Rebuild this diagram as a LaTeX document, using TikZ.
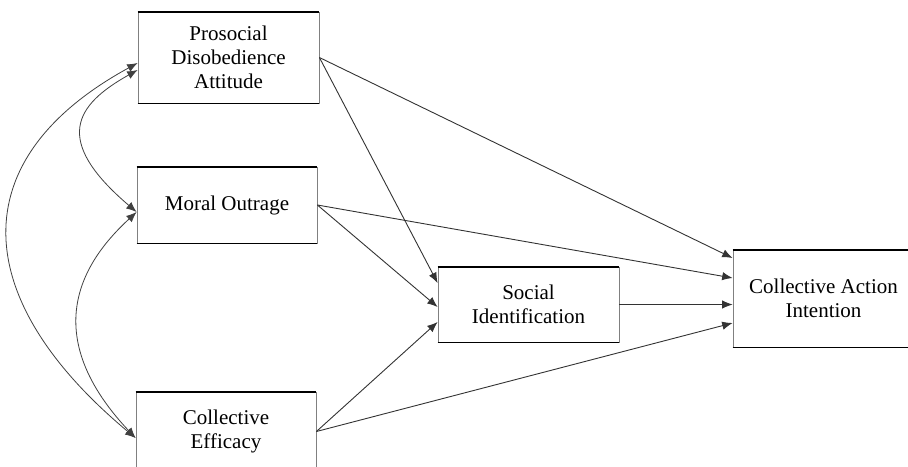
\documentclass[tikz,border=0pt]{standalone}
\usepackage{fontspec}
\setmainfont{Liberation Serif}
\usetikzlibrary{arrows.meta,calc}

\tikzset{
  var/.style={rectangle, draw=black!50, line width=0.4pt, align=center,
    font=\fontsize{10.5}{12}\selectfont, inner sep=0pt},
  effect/.style={-{Latex[length=5.2pt,width=4.2pt]}, draw=black!80, line width=0.45pt},
  cov/.style={{Latex[length=5.2pt,width=4.2pt]}-{Latex[length=5.2pt,width=4.2pt]},
    draw=black!75, line width=0.4pt}
}

\begin{document}
\begin{tikzpicture}[x=0.5pt,y=-0.5pt]
	\clip (0,0) rectangle (908,466);
	% variables
	\node[var, minimum width=90.5pt, minimum height=45.5pt] (pda) at (228.5,57.5) {Prosocial\\Disobedience\\Attitude};
	\node[var, minimum width=90pt, minimum height=38pt] (mo) at (227,205) {Moral Outrage};
	\node[var, minimum width=90pt, minimum height=39.5pt] (ce) at (226,431.5) {Collective\\Efficacy};
	\node[var, minimum width=90.5pt, minimum height=37.5pt] (si) at (528.5,304.5) {Social\\Identification};
	\node[var, minimum width=90.5pt, minimum height=48.5pt] (cai) at (823.5,298.5) {Collective Action\\Intention};
	% heavier top and bottom edges
	\foreach \v in {pda,mo,ce,si,cai}
		\draw[line width=0.9pt] (\v.north west) -- (\v.north east) (\v.south west) -- (\v.south east);
	% paths
	\draw[effect] (pda.east) -- ($(si.west)+(0,-21.5)$);
	\draw[effect] (pda.east) -- ($(cai.west)+(0,-40.5)$);
	\draw[effect] (mo.east) -- ($(si.west)+(0,2.5)$);
	\draw[effect] (mo.east) -- ($(cai.west)+(0,-20.5)$);
	\draw[effect] (ce.east) -- ($(si.west)+(0,17.5)$);
	\draw[effect] (ce.east) -- ($(cai.west)+(0,24.5)$);
	\draw[effect] (si.east) -- (si.east -| cai.west);
	% correlations
	\draw[cov] ($(pda.west)+(0,5.5)$) .. controls (-40,160) and (-30,300) .. ($(ce.west)+(0,6.5)$);
	\draw[cov] ($(pda.west)+(0,12.5)$) .. controls (75,105) and (52,140) .. ($(mo.west)+(0,7)$);
	\draw[cov] ($(mo.west)+(0,7)$) .. controls (90,255) and (32,328) .. ($(ce.west)+(0,6.5)$);
\end{tikzpicture}
\end{document}
